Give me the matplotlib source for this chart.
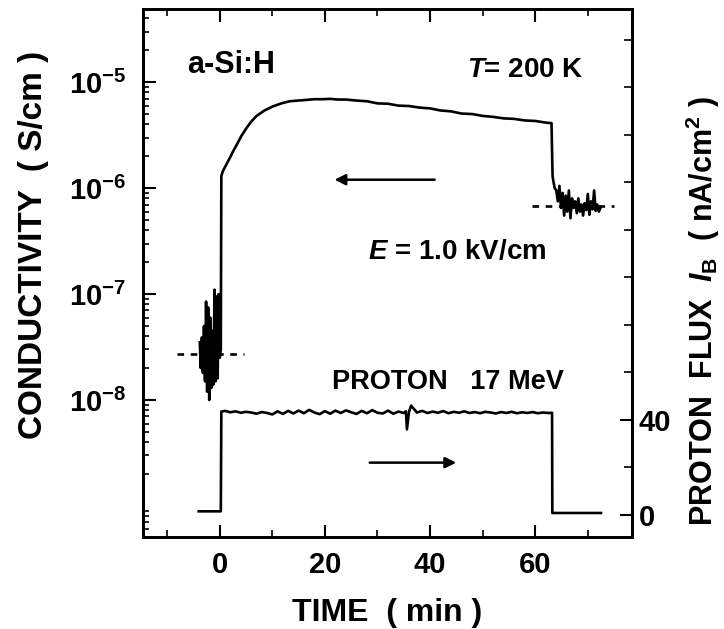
import matplotlib
matplotlib.use("Agg")
import matplotlib.pyplot as plt
from matplotlib.ticker import FixedLocator, NullFormatter, LogLocator
import numpy as np

plt.rcParams['font.family'] = ['Liberation Sans', 'DejaVu Sans']
plt.rcParams['font.weight'] = 'bold'
plt.rcParams['axes.labelweight'] = 'bold'
plt.rcParams['mathtext.fontset'] = 'custom'
plt.rcParams['mathtext.rm'] = 'Liberation Sans:bold'
plt.rcParams['mathtext.bf'] = 'Liberation Sans:bold'
plt.rcParams['mathtext.it'] = 'Liberation Sans:italic:bold'
plt.rcParams['mathtext.default'] = 'rm'

# conductivity (S/cm) vs time (min)
t_dark = [-3.8, -3.6, -3.4, -3.2, -3.0, -2.8, -2.6, -2.4, -2.2, -2.0, -1.8, -1.6,
          -1.4, -1.2, -1.0, -0.8, -0.6, -0.4, -0.2, 0.0, 0.2]
s_dark = [3.5e-8, 2.0e-8, 3.9e-8, 1.8e-8, 5.0e-8, 1.5e-8, 8.5e-8, 1.2e-8, 7.5e-8,
          1.0e-8, 6.0e-8, 1.3e-8, 4.5e-8, 1.4e-8, 1.1e-7, 1.5e-8, 9.5e-8, 1.6e-8,
          1.0e-7, 2.5e-8, 3.0e-8]

t_rise = [0.3, 0.6, 1.2, 1.9, 2.6, 3.2, 4.1, 5.1, 6.0, 7.0, 8.5, 10.1, 11.7, 13.3,
          14.9, 16.5, 18.0, 19.5, 21.0, 22.5, 24.0, 26.0]
s_rise = [1.3e-6, 1.45e-6, 1.65e-6, 1.92e-6, 2.25e-6, 2.55e-6, 3.1e-6, 3.7e-6,
          4.25e-6, 4.8e-6, 5.4e-6, 5.9e-6, 6.3e-6, 6.6e-6, 6.7e-6, 6.8e-6, 6.9e-6,
          6.9e-6, 6.95e-6, 6.85e-6, 6.85e-6, 6.7e-6]

t_decay = [28, 30, 32, 34, 36, 38, 40, 42, 44, 46, 48, 50, 52, 54, 56, 58, 60, 62, 63.1]
s_decay = [6.6e-6, 6.3e-6, 6.25e-6, 6.0e-6, 5.95e-6, 5.75e-6, 5.65e-6, 5.4e-6, 5.3e-6,
           5.05e-6, 5.0e-6, 4.8e-6, 4.7e-6, 4.55e-6, 4.5e-6, 4.35e-6, 4.3e-6, 4.15e-6, 4.1e-6]

t_after = [63.2, 63.3, 63.4, 63.7, 64.0, 64.3, 64.6, 64.9, 65.2, 65.5, 65.8, 66.1,
           66.4, 66.7, 67.0, 67.3, 67.6, 67.9, 68.2, 68.5, 68.8, 69.1, 69.4, 69.7,
           70.0, 70.3, 70.6, 70.9, 71.2, 71.5, 71.8, 72.1, 72.4]
s_after = [2.2e-6, 1.3e-6, 1.2e-6, 1.0e-6, 9.5e-7, 7.5e-7, 1.05e-6, 6.5e-7, 9.0e-7,
           5.5e-7, 8.5e-7, 6.0e-7, 9.5e-7, 5.2e-7, 8.0e-7, 6.5e-7, 7.5e-7, 5.8e-7,
           8.0e-7, 6.0e-7, 7.0e-7, 5.5e-7, 7.2e-7, 6.2e-7, 8.8e-7, 5.6e-7, 7.5e-7,
           6.3e-7, 9.5e-7, 6.1e-7, 7.0e-7, 6.0e-7, 6.5e-7]

# dark levels (dashed)
dark_before = 2.7e-8
dark_after = 6.8e-7

# proton flux (nA/cm^2)
t_flux = [-4.0, 0.2, 0.3, 1.0, 2.0, 3.0, 4.0, 5.0, 6.0, 7.0, 8.0, 9.0, 10.0, 11.0,
          12.0, 13.0, 14.0, 15.0, 16.0, 17.0, 18.0, 19.0, 20.0, 21.0, 22.0, 23.0,
          24.0, 25.0, 26.0, 27.0, 28.0, 29.0, 30.0, 31.0, 32.0, 33.0, 34.0, 35.0,
          35.4, 35.6, 36.0, 36.4, 37.5, 38.5, 39.5, 40.5, 41.5, 42.5, 43.5, 44.5,
          45.5, 46.5, 47.5, 48.5, 49.5, 50.5, 51.5, 52.5, 53.5, 54.5, 55.5, 56.5,
          57.5, 58.5, 59.5, 60.5, 61.5, 62.5, 63.2, 63.25, 72.5]
flux = [1.5, 1.5, 43.5, 43.8, 43.2, 43.6, 43.0, 43.4, 43.1, 42.6, 43.3, 42.9, 42.3,
        43.6, 42.5, 43.8, 42.7, 43.9, 42.8, 44.2, 43.1, 42.4, 43.7, 42.6, 43.9, 42.9,
        44.0, 43.2, 42.5, 43.8, 42.8, 44.1, 43.0, 42.7, 43.9, 42.6, 43.5, 42.9,
        43.6, 36.0, 43.5, 46.0, 43.1, 43.8, 42.9, 43.5, 43.0, 43.7, 42.8, 43.4,
        43.0, 43.6, 42.9, 43.3, 42.8, 43.4, 43.1, 42.7, 43.3, 42.9, 43.4, 42.8,
        43.2, 42.9, 43.3, 42.8, 43.1, 42.9, 43.0, 0.8, 0.8]

fig = plt.figure(figsize=(7.24, 6.29), dpi=100)
ax = fig.add_axes([0.1975, 0.1463, 0.6754, 0.8394])
ax2 = ax.twinx()

t_all = t_dark + t_rise + t_decay + t_after
s_all = s_dark + s_rise + s_decay + s_after
ax.plot(t_all, s_all, color='black', lw=1.9)
ax.plot([-8.2, 4.7], [dark_before, dark_before], color='black', lw=1.9, ls=(0, (2.5, 2.5)))
ax.plot([59.4, 75.0], [dark_after, dark_after], color='black', lw=1.9, ls=(0, (2.5, 2.5)))

ax.set_yscale('log')
ax.set_xlim(-14.6, 78.4)
ax.set_ylim(5.1e-10, 4.9e-5)
ax.set_yticks([1e-8, 1e-7, 1e-6, 1e-5])
ax.set_yticklabels([r'$10^{-8}$', r'$10^{-7}$', r'$10^{-6}$', r'$10^{-5}$'])
ax.yaxis.set_minor_locator(LogLocator(base=10, subs=np.arange(2, 10)))
ax.yaxis.set_minor_formatter(NullFormatter())
ax.set_xticks([0, 20, 40, 60])
ax.xaxis.set_minor_locator(FixedLocator([-10, 10, 30, 50, 70]))

ax.tick_params(axis='y', which='major', direction='in', length=9, width=1.5,
               labelsize=21, pad=12)
ax.tick_params(axis='y', which='minor', direction='in', length=4.5, width=1.2)
ax.tick_params(axis='x', which='major', direction='in', length=9, width=1.5,
               labelsize=21, pad=10, top=True)
ax.tick_params(axis='x', which='minor', direction='in', length=5, width=1.2, top=True)

ax.set_xlabel('TIME  ( min )', fontsize=23, labelpad=14)

ax2.plot(t_flux, flux, color='black', lw=1.9)
ax2.set_ylim(-9.3, 213)
ax2.set_yticks([0, 40])
ax2.yaxis.set_minor_locator(FixedLocator([20, 60, 80, 100, 120, 140, 160, 180, 200]))
ax2.tick_params(axis='y', which='major', direction='in', length=9, width=1.5,
                labelsize=21, pad=5)
ax2.tick_params(axis='y', which='minor', direction='in', length=6, width=1.2)

# axis titles placed where the reference puts them
fig.text(0.046, 0.61, 'CONDUCTIVITY  ( S/cm )', fontsize=24, rotation=90,
         ha='center', va='center')
fig.text(0.971, 0.505, r'PROTON  FLUX  $\mathit{I}_{\mathrm{B}}$  ( nA/cm$^{2}$ )',
         fontsize=22, rotation=90, ha='center', va='center')

for a in (ax, ax2):
    for sp in a.spines.values():
        sp.set_linewidth(2)

# annotations
ax.text(-6.3, 1.45e-5, 'a-Si:H', fontsize=22, ha='left', va='center')
ax.text(47.1, 1.3e-5, r'$\mathit{T}$= 200 K', fontsize=20, ha='left', va='center')
ax.text(28.1, 2.5e-7, r'$\mathit{E}$ = 1.0 kV/cm', fontsize=20, ha='left', va='center')
ax2.text(21.3, 56, 'PROTON   17 MeV', fontsize=19.5, ha='left', va='center')

ax.annotate('', xy=(21.3, 1.2e-6), xytext=(41.4, 1.2e-6),
            arrowprops=dict(arrowstyle='-|>', color='black', lw=1.8, mutation_scale=16))
ax2.annotate('', xy=(45.5, 22), xytext=(28.0, 22),
             arrowprops=dict(arrowstyle='-|>', color='black', lw=1.8, mutation_scale=16))

fig.savefig('out.png', dpi=100)
